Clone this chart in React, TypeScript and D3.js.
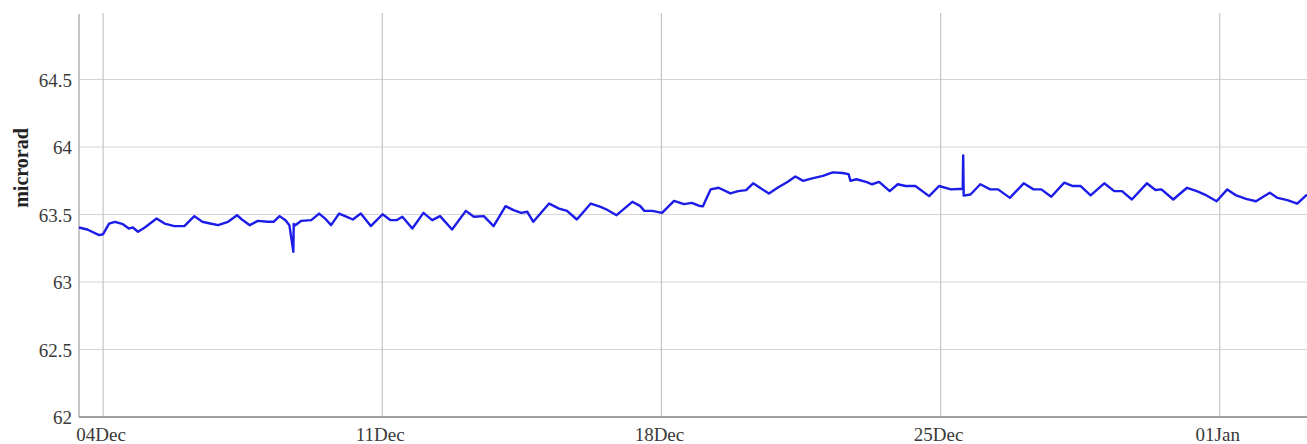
import React, { useEffect, useRef } from "react";
import * as d3 from "d3";

// hours counted from 04 Dec 00:00
const hoursFromDec4 = [
  -14.5, -9.5, -2.4, 0, 3.6, 7.2, 11.9, 15.5, 17.9, 21.0, 25.1, 32.2, 37.0, 42.9, 48.9,
  54.9, 59.7, 64.4, 69.2, 75.2, 80.6, 83.5, 88.3, 93.1, 99.0, 102.6, 106.2, 109.8, 112.1,
  114.5, 114.7, 115.7, 119.3, 125.3, 130.0, 133.6, 137.2, 142.0, 146.7, 150.3, 155.1,
  161.1, 168.2, 173.0, 176.6, 180.1, 186.1, 192.8, 198.0, 202.8, 210.0, 218.3, 223.1,
  229.1, 235.0, 242.2, 247.0, 251.7, 255.3, 258.9, 268.4, 274.4, 279.2, 285.1, 293.5,
  299.4, 303.0, 309.0, 318.5, 323.3, 325.7, 330.5, 336.4, 343.6, 349.5, 354.3, 358.5,
  360.9, 362.8, 365.6, 370.4, 377.5, 382.2, 387.0, 391.2, 395.3, 400.7, 405.9, 411.8,
  416.6, 421.3, 426.1, 433.2, 439.1, 445.0, 448.6, 449.8, 453.3, 459.2, 462.8, 467.0,
  473.4, 478.2, 482.9, 488.8, 497.1, 503.1, 510.2, 517.3, 517.6, 517.9, 522.0, 527.9,
  533.9, 538.6, 545.7, 554.0, 559.9, 564.6, 570.6, 578.4, 583.6, 588.3, 594.3, 602.5,
  608.5, 613.2, 619.1, 628.1, 633.3, 636.9, 644.0, 652.3, 658.2, 663.0, 670.1, 676.5,
  681.9, 687.8, 693.8, 702.1, 706.8, 712.7, 718.6, 724.5,
];

const microrad = [
  63.404, 63.389, 63.347, 63.354, 63.433, 63.446, 63.428, 63.396, 63.404, 63.372, 63.404,
  63.47, 63.433, 63.414, 63.414, 63.488, 63.446, 63.433, 63.421, 63.446, 63.495, 63.463,
  63.421, 63.453, 63.446, 63.446, 63.488, 63.458, 63.421, 63.223, 63.43, 63.421, 63.453,
  63.458, 63.507, 63.47, 63.421, 63.507, 63.483, 63.463, 63.507, 63.414, 63.502, 63.458,
  63.458, 63.483, 63.396, 63.512, 63.458, 63.488, 63.389, 63.527, 63.483, 63.488, 63.414,
  63.562, 63.532, 63.512, 63.52, 63.446, 63.581, 63.544, 63.527, 63.463, 63.581, 63.557,
  63.537, 63.495, 63.594, 63.562, 63.527, 63.527, 63.512, 63.601, 63.577, 63.586, 63.565,
  63.56, 63.611, 63.686, 63.698, 63.656, 63.673, 63.681, 63.731, 63.698, 63.656, 63.698,
  63.741, 63.781, 63.749, 63.766, 63.786, 63.812, 63.807, 63.799, 63.749, 63.761, 63.741,
  63.724, 63.741, 63.673, 63.724, 63.711, 63.711, 63.636, 63.711, 63.686, 63.691, 63.937,
  63.64, 63.648, 63.724, 63.686, 63.686, 63.623, 63.731, 63.686, 63.686, 63.631, 63.736,
  63.711, 63.711, 63.641, 63.731, 63.673, 63.673, 63.611, 63.731, 63.681, 63.686, 63.611,
  63.698, 63.673, 63.648, 63.598, 63.686, 63.641, 63.616, 63.598, 63.661, 63.623, 63.606,
  63.58, 63.648,
];

const xTickDates = ["2017-12-04", "2017-12-11", "2017-12-18", "2017-12-25", "2018-01-01"];
const yTicks = [62, 62.5, 63, 63.5, 64, 64.5];

const W = 1307;
const H = 444;

const App = () => {
  const ref = useRef<SVGSVGElement>(null);

  useEffect(() => {
    const svg = d3.select(ref.current);
    svg.selectAll("*").remove();

    const left = 79;
    const bottom = 417;
    const top = 12;
    const base = new Date(2017, 11, 4).getTime();
    const toDate = (h: number) => new Date(base + h * 3600 * 1000);

    const x = d3
      .scaleTime()
      .domain([toDate(-14.5), toDate(724.5)])
      .range([left, W]);
    const y = d3.scaleLinear().domain([62, 65]).range([bottom, top]);

    const ticks = xTickDates.map((s) => {
      const [yy, mm, dd] = s.split("-").map(Number);
      return new Date(yy, mm - 1, dd);
    });

    // horizontal grid
    svg.append("g")
      .selectAll("line")
      .data(yTicks.slice(1))
      .enter()
      .append("line")
      .attr("x1", left)
      .attr("x2", W)
      .attr("y1", (d) => y(d))
      .attr("y2", (d) => y(d))
      .attr("stroke", "#d4d4d4")
      .attr("stroke-width", 1.2);

    // vertical grid
    svg.append("g")
      .selectAll("line")
      .data(ticks)
      .enter()
      .append("line")
      .attr("x1", (d) => x(d))
      .attr("x2", (d) => x(d))
      .attr("y1", top + 1)
      .attr("y2", bottom)
      .attr("stroke", "#c4c4c4")
      .attr("stroke-width", 1.2);

    // axes lines
    svg.append("line")
      .attr("x1", left).attr("x2", left)
      .attr("y1", top + 2).attr("y2", bottom)
      .attr("stroke", "#a8a8a8").attr("stroke-width", 1.3);
    svg.append("line")
      .attr("x1", left).attr("x2", W)
      .attr("y1", bottom).attr("y2", bottom)
      .attr("stroke", "#a0a0a0").attr("stroke-width", 2);

    // tick labels
    const fmt = d3.timeFormat("%d%b");
    svg.append("g")
      .selectAll("text")
      .data(ticks)
      .enter()
      .append("text")
      .attr("x", (d) => x(d) - 2)
      .attr("y", 441)
      .attr("text-anchor", "middle")
      .attr("font-family", "Liberation Serif, serif")
      .attr("font-size", 19)
      .attr("fill", "#3a3a3a")
      .text((d) => fmt(d));

    svg.append("g")
      .selectAll("text")
      .data(yTicks)
      .enter()
      .append("text")
      .attr("x", 72)
      .attr("y", (d) => y(d) + 7)
      .attr("text-anchor", "end")
      .attr("font-family", "Liberation Serif, serif")
      .attr("font-size", 19)
      .attr("fill", "#3a3a3a")
      .text((d) => String(d));

    svg.append("text")
      .attr("transform", "translate(28,168) rotate(-90)")
      .attr("text-anchor", "middle")
      .attr("font-family", "Liberation Serif, serif")
      .attr("font-weight", "bold")
      .attr("font-size", 20)
      .attr("fill", "#222")
      .text("microrad");

    const pts = hoursFromDec4.map((h, i) => [toDate(h), microrad[i]] as [Date, number]);
    const line = d3
      .line<[Date, number]>()
      .x((d) => x(d[0]))
      .y((d) => y(d[1]));

    svg.append("path")
      .datum(pts)
      .attr("d", line)
      .attr("fill", "none")
      .attr("stroke", "#1c1ce8")
      .attr("stroke-width", 2.4)
      .attr("stroke-linejoin", "round");
  }, []);

  return (
    <svg
      ref={ref}
      width={W}
      height={H}
      style={{ position: "absolute", left: 0, top: 0, background: "#fff" }}
    />
  );
};

export default App;
